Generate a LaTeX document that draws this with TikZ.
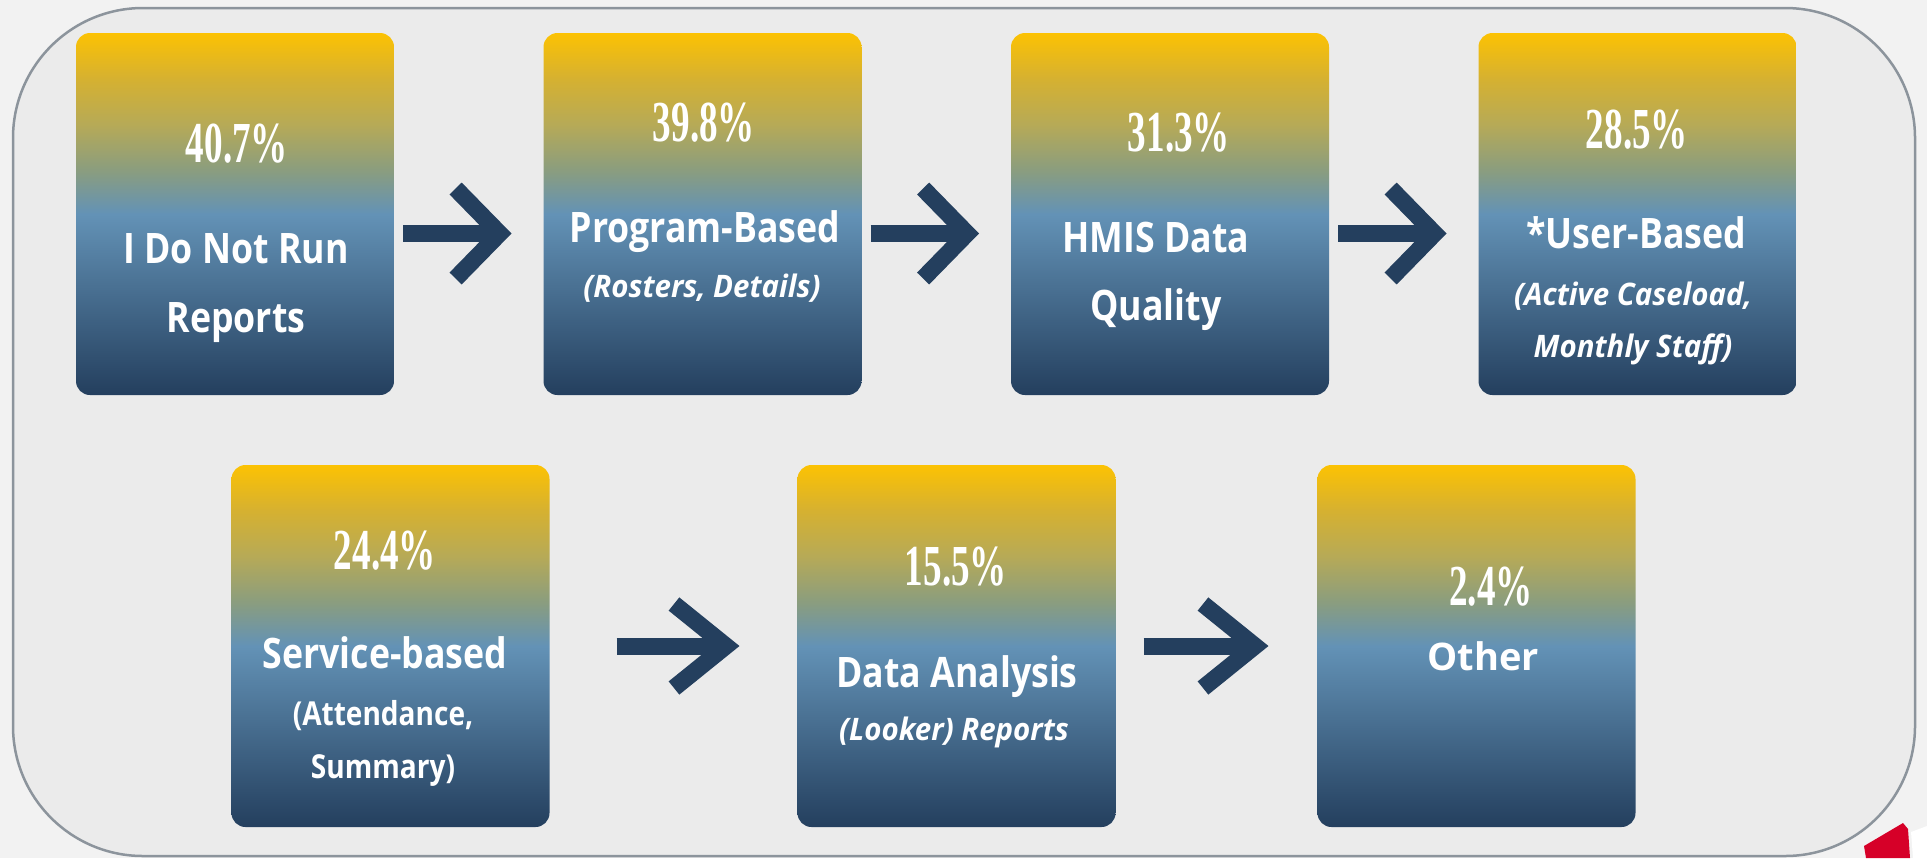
\documentclass[tikz,border=0pt]{standalone}
\usepackage{fontspec}
\setmainfont{Open Sans}
\newfontfamily\headfont{Open Sans}[FakeStretch=0.85]
\newfontfamily\subfont{Open Sans}[FakeStretch=0.95]
\newfontfamily\pctfont{Liberation Serif}[FakeStretch=0.64]
\usetikzlibrary{arrows.meta}

\definecolor{gold}{RGB}{252,194,3}
\definecolor{amber}{RGB}{214,177,48}
\definecolor{olive}{RGB}{183,170,86}
\definecolor{sage}{RGB}{138,157,127}
\definecolor{steel}{RGB}{99,146,182}
\definecolor{navy}{RGB}{36,63,94}
\definecolor{pagegray}{RGB}{242,242,242}
\definecolor{framefill}{RGB}{235,235,235}
\definecolor{framegray}{RGB}{140,148,156}
\definecolor{logored}{RGB}{214,0,40}

\pgfdeclareverticalshading{boxfade}{100bp}{color(0bp)=(navy); color(25bp)=(navy);
  color(50bp)=(steel); color(56bp)=(sage); color(62.5bp)=(olive);
  color(68.75bp)=(amber); color(75bp)=(gold); color(100bp)=(gold)}

\begin{document}
\begin{tikzpicture}[x=0.5pt,y=-0.5pt,
    box/.style={shade,shading=boxfade,rounded corners=7pt,minimum width=159pt,
        minimum height=181pt,inner sep=0pt,outer sep=0pt},
    pct/.style={text=white,font=\pctfont\bfseries\fontsize{29}{29}\selectfont},
    head/.style={text=white,align=center,anchor=base,
        font=\headfont\bfseries\fontsize{21}{34.5}\selectfont},
    sub/.style={text=white,align=center,anchor=base,
        font=\subfont\bfseries\itshape\fontsize{15.5}{26}\selectfont},
    flow/.style={draw=navy,line width=8.5pt,-{Straight Barb[length=22pt,width=45pt]}},
    flowlong/.style={flow,-{Straight Barb[length=26pt,width=42pt]}}]

    \fill[pagegray] (0,0) rectangle (1927,858);
    \useasboundingbox (0,0) rectangle (1927,858);
    \draw[framegray,line width=1.25pt,fill=framefill,rounded corners=65pt]
        (13,8) rectangle (1915,856);

    \foreach \n/\x/\y in {1/235/214, 2/702.5/214, 3/1170/214, 4/1637.5/214,
                          5/390.5/646, 6/956.5/646, 7/1476.5/646}{
        \node[box] (b\n) at (\x,\y) {};
    }

    \node[pct] (p1) at (237,144) {40.7\%};
    \node[pct] (p2) at (704,123) {39.8\%};
    \node[pct] (p3) at (1179,133) {31.3\%};
    \node[pct] (p4) at (1637,130) {28.5\%};
    \node[pct] (p5) at (385,551) {24.4\%};
    \node[pct] (p6) at (956,567) {15.5\%};
    \node[pct] (p7) at (1491,587) {2.4\%};

    \node[head] (h1) at (236,332) {I Do Not Run\\Reports};
    \node[head] (h2) at (705,242) {Program-Based};
    \node[head,font=\headfont\bfseries\fontsize{21}{34}\selectfont] (h3) at (1156,320) {HMIS Data\\Quality};
    \node[head] (h4) at (1636,248) {*User-Based};
    \node[head] (h5) at (385,668) {Service-based};
    \node[head] (h6) at (957,687) {Data Analysis};
    \node[head,font=\bfseries\fontsize{19}{19}\selectfont] (h7) at (1483,670) {Other};

    \node[sub] (s2) at (702,297) {(Rosters, Details)};
    \node[sub] (s4) at (1633,357) {(Active Caseload,\\Monthly Staff)};
    \node[sub,font=\headfont\bfseries\fontsize{16.5}{26.5}\selectfont] (s5) at (383,778)
        {(Attendance,\\Summary)};
    \node[sub] (s6) at (954,740) {(Looker) Reports};

    \foreach \a/\b in {b1/b2, b2/b3, b3/b4}
        \draw[flow,shorten <=4.5pt,shorten >=16pt] ([yshift=-9.75pt]\a.east) -- ([yshift=-9.75pt]\b.west);
    \foreach \a/\b/\s/\e in {b5/b6/33.5/29, b6/b7/14/24.5}
        \draw[flowlong,shorten <=\s pt,shorten >=\e pt] (\a.east) -- (\b.west);

    \fill[logored] (1864,846) -- (1903,823) -- (1908,829) -- (1910,858) -- (1866,858) -- cycle;
    \fill[white] (1911,832) -- (1927,826) -- (1927,858) -- (1913,858) -- cycle;
\end{tikzpicture}
\end{document}
